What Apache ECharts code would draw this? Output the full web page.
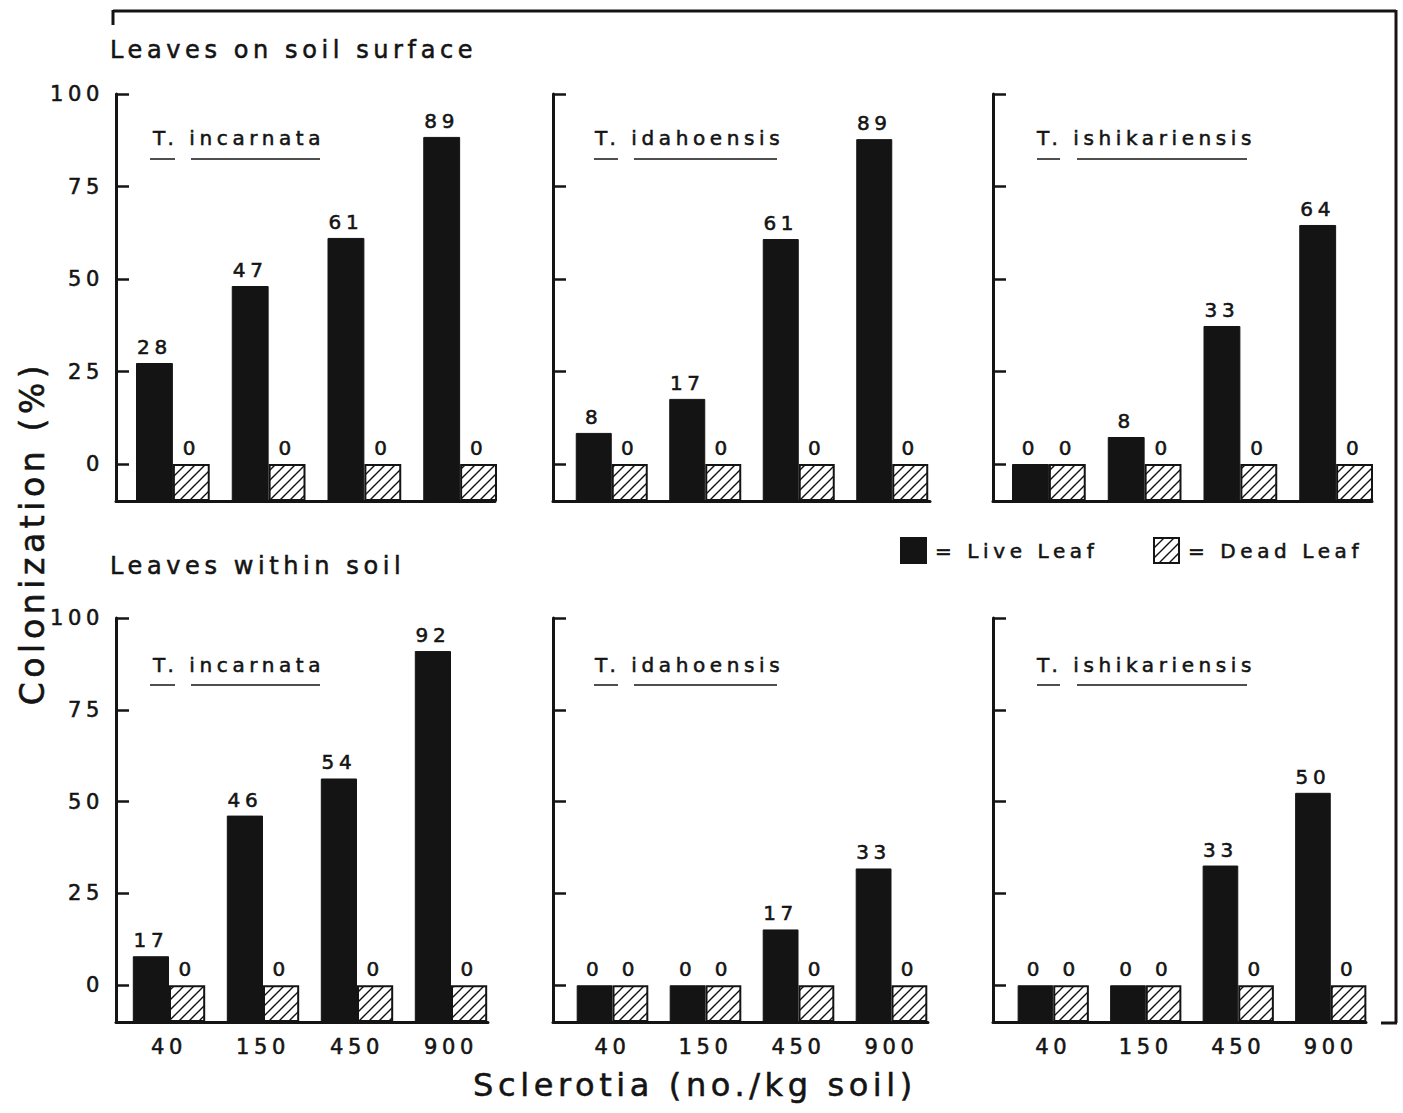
<!DOCTYPE html>
<html>
<head>
<meta charset="utf-8">
<script src="https://cdn.jsdelivr.net/npm/echarts@6/dist/echarts.min.js"></script>
<style>
html,body{margin:0;padding:0;background:#fff;}
#chart{width:1403px;height:1113px;}
#chart text{letter-spacing:4.6px;stroke:#141414;stroke-width:0.55px;}
</style>
</head>
<body>
<div id="chart"></div>
<script>
// ---------------- data ----------------
const categories = ['40', '150', '450', '900'];
const yTickValues = [0, 25, 50, 75, 100];
const rowTitles = ['Leaves on soil surface', 'Leaves within soil'];
const speciesNames = ['T. incarnata', 'T. idahoensis', 'T. ishikariensis'];
const seriesNames = ['Live Leaf', 'Dead Leaf'];
const xTitle = 'Sclerotia (no./kg soil)';
const yTitle = 'Colonization (%)';

// bar heights as drawn
const surfaceIncarnataLive = [27.3, 48.1, 61.1, 88.4];
const surfaceIdahoensisLive = [8.4, 17.6, 60.8, 87.8];
const surfaceIshikariensisLive = [0, 7.3, 37.3, 64.6];
const soilIncarnataLive = [7.9, 46.2, 56.3, 91.0];
const soilIdahoensisLive = [0, 0, 15.2, 31.8];
const soilIshikariensisLive = [0, 0, 32.6, 52.4];
const surfaceIncarnataDead = [0, 0, 0, 0];
const surfaceIdahoensisDead = [0, 0, 0, 0];
const surfaceIshikariensisDead = [0, 0, 0, 0];
const soilIncarnataDead = [0, 0, 0, 0];
const soilIdahoensisDead = [0, 0, 0, 0];
const soilIshikariensisDead = [0, 0, 0, 0];

// printed value labels
const surfaceIncarnataLiveLabels = [28, 47, 61, 89];
const surfaceIdahoensisLiveLabels = [8, 17, 61, 89];
const surfaceIshikariensisLiveLabels = [0, 8, 33, 64];
const soilIncarnataLiveLabels = [17, 46, 54, 92];
const soilIdahoensisLiveLabels = [0, 0, 17, 33];
const soilIshikariensisLiveLabels = [0, 0, 33, 50];
const deadLabels = [0, 0, 0, 0];

// ---------------- layout ----------------
const FONT = 'DejaVu Sans';
const INK = '#141414';
const rowsLayout = [{ top: 94, height: 407 }, { top: 618, height: 404 }];
const axisGridX = [
  [[116, 495], [553, 930], [993, 1372]],
  [[116, 488], [553, 928], [993, 1366]]
];
const barGridX = [
  [[125, 383], [565, 374], [1001, 383]],
  [[122, 376], [566, 372], [1007, 370]]
];

const panels = [
  { row: 0, col: 0, live: surfaceIncarnataLive, dead: surfaceIncarnataDead, liveLab: surfaceIncarnataLiveLabels },
  { row: 0, col: 1, live: surfaceIdahoensisLive, dead: surfaceIdahoensisDead, liveLab: surfaceIdahoensisLiveLabels },
  { row: 0, col: 2, live: surfaceIshikariensisLive, dead: surfaceIshikariensisDead, liveLab: surfaceIshikariensisLiveLabels },
  { row: 1, col: 0, live: soilIncarnataLive, dead: soilIncarnataDead, liveLab: soilIncarnataLiveLabels },
  { row: 1, col: 1, live: soilIdahoensisLive, dead: soilIdahoensisDead, liveLab: soilIdahoensisLiveLabels },
  { row: 1, col: 2, live: soilIshikariensisLive, dead: soilIshikariensisDead, liveLab: soilIshikariensisLiveLabels }
];

// hatch pattern
function makeHatch() {
  const s = 10;
  const c = document.createElement('canvas');
  c.width = s; c.height = s;
  const g = c.getContext('2d');
  g.fillStyle = '#fff';
  g.fillRect(0, 0, s, s);
  g.strokeStyle = '#111';
  g.lineWidth = 1.4;
  g.beginPath();
  g.moveTo(-1, s + 1); g.lineTo(s + 1, -1);
  g.moveTo(-2, 2); g.lineTo(2, -2);
  g.moveTo(s - 2, s + 2); g.lineTo(s + 2, s - 2);
  g.stroke();
  return c;
}
const hatch = { image: makeHatch(), repeat: 'repeat' };

const grid = [], xAxis = [], yAxis = [], series = [];
const N = panels.length;
panels.forEach((p, i) => {
  const r = rowsLayout[p.row];
  const ax = axisGridX[p.row][p.col];
  const bx = barGridX[p.row][p.col];
  // axis frame grid
  grid[i] = { left: ax[0], top: r.top, width: ax[1] - ax[0], height: r.height };
  xAxis[i] = {
    gridIndex: i, type: 'category', data: categories,
    axisLine: { show: true, onZero: false, lineStyle: { color: INK, width: 3 } },
    axisTick: { show: false }, axisLabel: { show: false }, splitLine: { show: false }
  };
  yAxis[i] = {
    gridIndex: i, type: 'value', min: -10, max: 100,
    axisLine: { show: true, onZero: false, lineStyle: { color: INK, width: 3 } },
    axisTick: { show: true, inside: true, length: 13, customValues: yTickValues, lineStyle: { color: INK, width: 2.5 } },
    axisLabel: { show: p.col === 0, customValues: yTickValues, margin: 12, fontFamily: FONT, fontSize: 21, color: INK },
    splitLine: { show: false }
  };
  // bars grid
  const j = i + N;
  grid[j] = { left: bx[0], top: r.top, width: bx[1], height: r.height };
  xAxis[j] = {
    gridIndex: j, type: 'category', data: categories,
    axisLine: { show: false, onZero: false }, axisTick: { show: false },
    axisLabel: { show: p.row === 1, margin: 14, fontFamily: FONT, fontSize: 21, color: INK, interval: 0 },
    splitLine: { show: false }
  };
  yAxis[j] = {
    gridIndex: j, type: 'value', min: -10, max: 100, startValue: -10, show: false,
    splitLine: { show: false }
  };
  const lab = (arr) => ({
    show: true, position: 'top', distance: 6, fontFamily: FONT, fontSize: 20, color: INK,
    formatter: (d) => String(arr[d.dataIndex])
  });
  series.push({
    type: 'bar', name: seriesNames[0], xAxisIndex: j, yAxisIndex: j, data: p.live,
    barGap: '0%', barCategoryGap: '23%',
    itemStyle: { color: INK, borderColor: INK, borderWidth: 1 },
    label: lab(p.liveLab), emphasis: { disabled: true }, animation: false
  });
  series.push({
    type: 'bar', name: seriesNames[1], xAxisIndex: j, yAxisIndex: j, data: p.dead,
    barGap: '0%', barCategoryGap: '23%',
    itemStyle: { color: hatch, borderColor: INK, borderWidth: 2 },
    label: lab(deadLabels), emphasis: { disabled: true }, animation: false
  });
});

// decorations
const graphic = [];
const line = (x1, y1, x2, y2, w) => ({ type: 'line', shape: { x1, y1, x2, y2 }, style: { stroke: INK, lineWidth: w } });
// outer frame
graphic.push(line(113, 11, 1396, 11, 3));
graphic.push(line(113, 10, 113, 25, 3));
graphic.push(line(1396, 10, 1396, 1023, 3));
graphic.push(line(1381, 1023, 1397, 1023, 3));
// row titles
[[110, 50], [110, 566]].forEach((pos, k) => {
  graphic.push({ type: 'text', x: pos[0], y: pos[1], style: { text: rowTitles[k], font: '24px "' + FONT + '"', fill: INK, align: 'left', verticalAlign: 'middle' } });
});
// species labels with underlines
const speciesX = [153, 595, 1037];
const speciesY = [138, 665];
const underlineY = [159, 685];
const underlines = [[[150, 175], [191, 320]], [[594, 618], [634, 777]], [[1037, 1060], [1077, 1247]]];
[0, 1].forEach(rw => {
  [0, 1, 2].forEach(c => {
    graphic.push({ type: 'text', x: speciesX[c], y: speciesY[rw], style: { text: speciesNames[c], font: '20px "' + FONT + '"', fill: INK, align: 'left', verticalAlign: 'middle' } });
    underlines[c].forEach(u => graphic.push(line(u[0], underlineY[rw], u[1], underlineY[rw], 1.5)));
  });
});
// axis titles
graphic.push({ type: 'text', x: 32, y: 533, rotation: Math.PI / 2, style: { text: yTitle, font: '33px "' + FONT + '"', fill: INK, align: 'center', verticalAlign: 'middle' } });
graphic.push({ type: 'text', x: 695, y: 1085, style: { text: xTitle, font: '32px "' + FONT + '"', fill: INK, align: 'center', verticalAlign: 'middle' } });

const legendBase = {
  orient: 'horizontal', top: 537, padding: 0, itemWidth: 25, itemHeight: 25, icon: 'rect', selectedMode: false,
  formatter: '= {name}', textStyle: { fontFamily: FONT, fontSize: 20, color: INK, padding: [0, 0, 0, 4] }
};

const option = {
  backgroundColor: '#fff',
  animation: false,
  grid, xAxis, yAxis, series, graphic,
  legend: [
    Object.assign({}, legendBase, { data: [seriesNames[0]], left: 900 }),
    Object.assign({}, legendBase, { data: [seriesNames[1]], left: 1153 })
  ]
};

const chart = echarts.init(document.getElementById('chart'), null, { renderer: 'svg' });
chart.setOption(option);
</script>
</body>
</html>
